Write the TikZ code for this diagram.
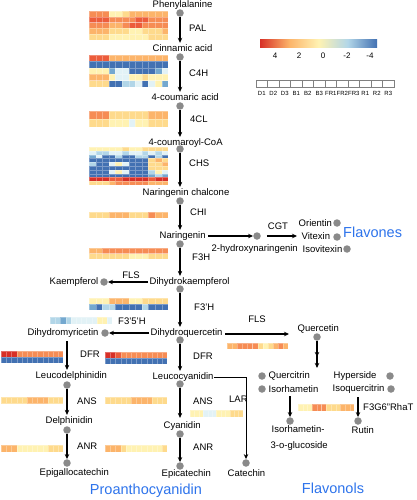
\documentclass[tikz,border=0pt]{standalone}
\usepackage{fontspec}
\setmainfont{Liberation Sans}
\usepackage{tikz}
\usetikzlibrary{positioning, arrows.meta, calc}
\definecolor{r4}{RGB}{215, 48, 39}
\definecolor{r3}{RGB}{236, 92, 59}
\definecolor{r2}{RGB}{246, 140, 84}
\definecolor{r1}{RGB}{252, 180, 106}
\definecolor{y1}{RGB}{254, 218, 140}
\definecolor{y0}{RGB}{255, 242, 178}
\definecolor{b1}{RGB}{226, 242, 246}
\definecolor{b2}{RGB}{178, 214, 232}
\definecolor{b3}{RGB}{116, 168, 207}
\definecolor{b4}{RGB}{66, 113, 178}
\definecolor{dotGray}{RGB}{138, 138, 138}
\definecolor{classBlue}{RGB}{45, 115, 235}
\pgfdeclarehorizontalshading{heatbar}{100bp}{color(0bp)=(r4); color(25bp)=(r4); color(37.5bp)=(r1); color(50bp)=(y0); color(62.5bp)=(b2); color(75bp)=(b4); color(100bp)=(b4)}
\tikzset{
    met_node/.style={
        inner sep=0.5pt,
        anchor=west,
        font=\fontsize{9.5}{11}\selectfont
    },
    dot_node/.style={
        circle,
        fill=dotGray,
        inner sep=0pt,
        minimum size=7.5pt
    },
    enz_label/.style={
        inner sep=0pt,
        anchor=west,
        font=\fontsize{9.5}{11}\selectfont
    },
    path_edge/.style={
        -{Stealth[length=5pt,width=4.5pt]},
        line width=1.1pt,
        draw=black
    },
    side_edge/.style={
        path_edge,
        line width=0.8pt
    },
    double_edge/.style={
        -{Stealth[length=5pt,width=4.5pt,sep=6pt]Stealth[length=5pt,width=4.5pt]},
        line width=1.1pt
    },
    class_label/.style={
        inner sep=0pt,
        text=classBlue,
        font=\fontsize{14.5}{16}\selectfont
    },
    tick_label/.style={
        inner sep=0pt,
        font=\fontsize{8}{9}\selectfont
    },
    sample_label/.style={
        inner sep=0pt,
        font=\fontsize{6}{7}\selectfont
    }
}
% x0, y0, cell width, cell height, rows of colours
\newcommand{\heatmap}[5]{%
    \foreach \rowcols [count=\rowi] in {#5} {
        \foreach \cellc [count=\coli] in \rowcols {
            \fill[fill=\cellc, draw=white, draw opacity=0.3, line width=0.2pt]
                ({#1+(\coli-1)*#3}, {#2+(\rowi-1)*#4}) rectangle ++(#3,#4);
        }
    }
}

\begin{document}
\begin{tikzpicture}[x=1pt, y=-1pt]
    \useasboundingbox (0,0) rectangle (416,500);

    % heatmaps
    \heatmap{89}{11}{6.6}{5.8}{{r2,r2,r2,y0,y0,y1,r1,r1,r1,r1,r1,r1},{r3,r3,r3,r2,r2,r2,r2,r3,r3,r2,r2,r2},{r2,r2,r2,r1,r1,r2,r3,r3,r2,r2,r2,r2},{r1,r1,r1,y1,y1,y1,y0,y0,y1,y1,y1,r1},{y1,y1,y1,y0,y0,y0,y0,y0,y0,y1,y1,y1}}
    \heatmap{89}{55}{6.6}{6.4}{{r3,r3,r3,r1,r1,r1,r1,r1,r1,r1,r1,r1},{b4,b4,b4,b4,b4,b4,b4,b4,b4,b4,b4,b4},{y0,y0,y0,b3,b1,b1,b4,b4,b4,b4,b3,b1},{r1,r1,r1,y0,b1,b1,y0,y0,y1,y0,y0,y0},{y1,y1,y1,b4,b4,b2,b2,b1,b4,b1,y0,b3}}
    \heatmap{89}{111}{6.6}{8}{{r2,r2,r2,y1,y1,y1,y1,y1,y1,r1,r1,r1},{y1,y1,y1,y0,y0,y0,b1,y0,y0,y1,y1,y1}}
    \heatmap{89}{147}{6.6}{3.8}{{y0,y0,y0,y0,y0,y1,y0,y0,y1,y1,y1,y1},{b1,b2,b2,b1,b1,b2,b1,b1,b2,b1,b2,b1},{b3,b1,b4,b4,b2,b4,b4,b2,b2,b4,b2,b4},{b4,b4,b4,b4,b4,b4,b4,b4,b4,y1,r1,y1},{b2,b4,b4,b1,y0,b1,b4,b4,b4,y1,y1,r1},{b4,b4,b4,b4,b4,b4,b4,b4,b4,y1,y1,y1},{b4,b4,b4,b1,y0,b1,b4,b4,b4,b2,y0,b1},{b4,b4,b4,b4,b4,b4,b4,b4,b4,b3,b2,b3},{r4,r4,r4,r3,r3,r4,r4,r4,r4,r3,r4,r4},{y1,y1,y1,r1,r2,r2,r2,r2,r2,r1,r1,r1}}
    \heatmap{89}{212}{6.6}{6}{{y1,y1,y1,r1,r1,r1,y1,y1,y1,r2,r1,r1}}
    \heatmap{89}{248}{6.6}{5.5}{{r1,r1,r2,r2,r2,r2,r2,r2,r2,r2,r2,r2},{y1,y1,y1,y1,y1,y1,y0,y0,y0,y1,y1,y1}}
    \heatmap{89}{298}{6.6}{6}{{y0,y0,y0,r1,r1,r1,y0,y0,y1,y1,y1,y1},{b3,b4,b2,b2,b4,b4,b4,b4,b2,b4,b4,b4}}
    \heatmap{50}{317}{5.2}{7}{{b2,b2,b3,b2,b1,b1,b1,b1,b1,y0,y0,b1}}
    \heatmap{105}{352}{5.2}{6}{{r4,r4,r3,r2,r2,r2,r2,r2,r2,r2,r2,r2},{b4,b4,b4,b4,b4,b4,b4,b4,b4,b4,b4,b4}}
    \heatmap{1}{351}{5.2}{6}{{r4,r4,r4,r2,r2,r2,r2,r2,r2,r2,r2,r2},{b4,b4,b4,b4,b4,b4,b4,b4,b4,b4,b4,b4}}
    \heatmap{1}{397}{5.2}{6.5}{{y1,y1,y1,y1,y1,r1,r1,r1,r1,y1,y1,y1}}
    \heatmap{105}{397}{5.2}{7}{{y1,y1,y1,y1,y1,r1,r1,r1,r1,y1,y1,y1}}
    \heatmap{1}{445}{5.2}{7}{{r1,r1,r1,y0,y0,y0,y0,y0,y0,y1,y1,y1}}
    \heatmap{105}{445}{5.2}{7}{{r1,r1,r1,y1,y0,y0,y0,y0,y0,y0,y0,y1}}
    \heatmap{190}{410}{4.4}{7}{{y0,y0,y0,b1,b1,b1,y0,y0,y0,y1,y1,y1}}
    \heatmap{227}{343}{5.1}{6}{{r1,r1,r2,r2,r2,r2,y1,y0,y1,r1,r2,r1}}
    \heatmap{298}{404}{4.7}{7}{{y0,y0,y0,r2,r2,r2,y1,y1,y1,r1,r1,r1}}

    % legend
    \shade[shading=heatbar] (260,40) rectangle (377,48);
    \foreach \v/\tx in {4/275, 2/299, 0/323, -2/347, -4/370}
        \node[tick_label] (tick\tx) at (\tx,56) {\v};
    \foreach \s [count=\i] in {D1,D2,D3,B1,B2,B3,FR1,FR2,FR3,R1,R2,R3} {
        \draw[gray, line width=0.4pt] ({256+(\i-1)*11.5},80) rectangle ++(11.5,7);
        \node[sample_label] (smp\i) at ({256+(\i-0.5)*11.5},93) {\s};
    }

    % metabolites
    \node[met_node] (phe) at (152,5) {Phenylalanine};
    \node[met_node] (cin) at (152,48) {Cinnamic acid};
    \node[met_node] (cou) at (151,97) {4-coumaric acid};
    \node[met_node] (coa) at (148,143) {4-coumaroyl-CoA};
    \node[met_node] (chal) at (142,193) {Naringenin chalcone};
    \node[met_node] (nar) at (159,236) {Naringenin};
    \node[met_node] (dhk) at (149,282) {Dihydrokaempferol};
    \node[met_node] (kae) at (49,282) {Kaempferol};
    \node[met_node] (dhq) at (150,333) {Dihydroquercetin};
    \node[met_node] (dhm) at (27,333) {Dihydromyricetin};
    \node[met_node] (leuc) at (152,377) {Leucocyanidin};
    \node[met_node] (leud) at (35,376) {Leucodelphinidin};
    \node[met_node] (cya) at (163,426) {Cyanidin};
    \node[met_node] (del) at (45,421) {Delphinidin};
    \node[met_node] (epi) at (161,474) {Epicatechin};
    \node[met_node] (egc) at (39,473) {Epigallocatechin};
    \node[met_node] (cat) at (227,473) {Catechin};
    \node[met_node] (hyn) at (211,249) {2-hydroxynaringenin};
    \node[met_node] (ori) at (298,223) {Orientin};
    \node[met_node] (vit) at (301,236) {Vitexin};
    \node[met_node] (isov) at (302,249) {Isovitexin};
    \node[met_node] (que) at (297,329) {Quercetin};
    \node[met_node] (qcit) at (268,376) {Quercitrin};
    \node[met_node] (isor) at (268,389) {Isorhametin};
    \node[met_node] (hyp) at (333,376) {Hyperside};
    \node[met_node] (isoq) at (332,389) {Isoquercitrin};
    \node[met_node] (isog_a) at (271,429) {Isorhametin-};
    \node[met_node] (isog_b) at (270,446) {3-o-glucoside};
    \node[met_node] (rut) at (351,430) {Rutin};

    % dots
    \node[dot_node] (phe_dot) at (180,13) {};
    \node[dot_node] (cin_dot) at (180,57) {};
    \node[dot_node] (cou_dot) at (180,106) {};
    \node[dot_node] (coa_dot) at (180,149) {};
    \node[dot_node] (chal_dot) at (180,201) {};
    \node[dot_node] (nar_dot) at (180,244) {};
    \node[dot_node] (dhk_dot) at (180,289) {};
    \node[dot_node] (dhq_dot) at (180,340) {};
    \node[dot_node] (leuc_dot) at (180,384) {};
    \node[dot_node] (cya_dot) at (180,434) {};
    \node[dot_node] (epi_dot) at (180,466) {};
    \node[dot_node] (kae_dot) at (104,282) {};
    \node[dot_node] (dhm_dot) at (105,333) {};
    \node[dot_node] (leud_dot) at (67,385) {};
    \node[dot_node] (del_dot) at (67,430) {};
    \node[dot_node] (egc_dot) at (67,463) {};
    \node[dot_node] (cat_dot) at (246,463) {};
    \node[dot_node] (hyn_dot) at (257,236) {};
    \node[dot_node] (ori_dot) at (337,223) {};
    \node[dot_node] (vit_dot) at (337,237) {};
    \node[dot_node] (isov_dot) at (347,249) {};
    \node[dot_node] (que_dot) at (317,337) {};
    \node[dot_node] (qcit_dot) at (262,376) {};
    \node[dot_node] (isor_dot) at (262,389) {};
    \node[dot_node] (hyp_dot) at (390,376) {};
    \node[dot_node] (isoq_dot) at (391,389) {};
    \node[dot_node] (isog_dot) at (290,421) {};
    \node[dot_node] (rut_dot) at (358,421) {};

    % enzymes
    \node[enz_label] (pal) at (189,28) {PAL};
    \node[enz_label] (c4h) at (189,73) {C4H};
    \node[enz_label] (fcl) at (190,119) {4CL};
    \node[enz_label] (chs) at (189,163) {CHS};
    \node[enz_label] (chi) at (190,212) {CHI};
    \node[enz_label] (f3h) at (192,257) {F3H};
    \node[enz_label] (f3ph) at (194,307) {F3'H};
    \node[enz_label] (f35h) at (118,321) {F3'5'H};
    \node[enz_label] (dfr_q) at (193,356) {DFR};
    \node[enz_label] (ans_q) at (193,401) {ANS};
    \node[enz_label] (anr_q) at (193,447) {ANR};
    \node[enz_label] (lar) at (229,399) {LAR};
    \node[enz_label] (dfr_m) at (80,354) {DFR};
    \node[enz_label] (ans_m) at (77,401) {ANS};
    \node[enz_label] (anr_m) at (77,446) {ANR};
    \node[enz_label, anchor=center] (fls_k) at (131,275) {FLS};
    \node[enz_label, anchor=center] (fls_q) at (257,319) {FLS};
    \node[enz_label, anchor=center] (cgt) at (278,226) {CGT};
    \node[enz_label] (rhat) at (363,407) {F3G6"RhaT};

    % classes
    \node[class_label, anchor=west] (flavones) at (343,232) {Flavones};
    \node[class_label] (flavonols) at (333,488) {Flavonols};
    \node[class_label] (proanth) at (146,491) {Proanthocyanidin};

    % main route
    \draw[path_edge, shorten >=1pt] (phe_dot) -- (phe_dot |- cin.north);
    \draw[path_edge, shorten >=1pt] (cin_dot) -- (cin_dot |- cou.north);
    \draw[path_edge, shorten >=1pt] (cou_dot) -- (cou_dot |- coa.north);
    \draw[path_edge, shorten >=1pt] (coa_dot) -- (coa_dot |- chal.north);
    \draw[path_edge, shorten >=1pt] (chal_dot) -- (chal_dot |- nar.north);
    \draw[path_edge, shorten >=1pt] (nar_dot) -- (nar_dot |- dhk.north);
    \draw[path_edge, shorten >=1pt] (dhk_dot) -- (dhk_dot |- dhq.north);
    \draw[path_edge, shorten >=1pt] (dhq_dot) -- (dhq_dot |- leuc.north);
    \draw[path_edge, shorten >=3pt] (leuc_dot) -- (leuc_dot |- cya.north);
    \draw[path_edge] (cya_dot) -- (epi_dot);

    % side routes
    \draw[path_edge, shorten <=3pt, shorten >=1pt] (leud_dot |- dhm.south) -- (leud_dot |- leud.north);
    \draw[path_edge, shorten >=1pt] (leud_dot) -- (leud_dot |- del.north);
    \draw[path_edge] (del_dot) -- (egc_dot);
    \draw[path_edge, shorten <=1pt] (dhk.west) -- (kae_dot);
    \draw[path_edge, shorten <=1pt] (dhq.west) -- (dhm_dot);
    \draw[path_edge, shorten <=2pt, shorten >=8pt] ([yshift=-1pt]dhq.east) -- ([yshift=-1pt]dhq.east -| que.west);
    \draw[path_edge, shorten <=2pt] (nar.east) -- (hyn_dot);
    \draw[path_edge, shorten <=6pt, shorten >=4pt] (hyn_dot) -- (hyn_dot -| vit.west);
    \draw[side_edge] (leuc.east) -| (cat_dot);
    \draw[double_edge, shorten >=3pt] (que_dot) -- (que_dot |- qcit.north);
    \draw[path_edge, shorten <=3pt] (isog_dot |- isor.south) -- (isog_dot);
    \draw[path_edge, shorten <=3pt] (rut_dot |- isoq.south) -- (rut_dot);
\end{tikzpicture}
\end{document}
